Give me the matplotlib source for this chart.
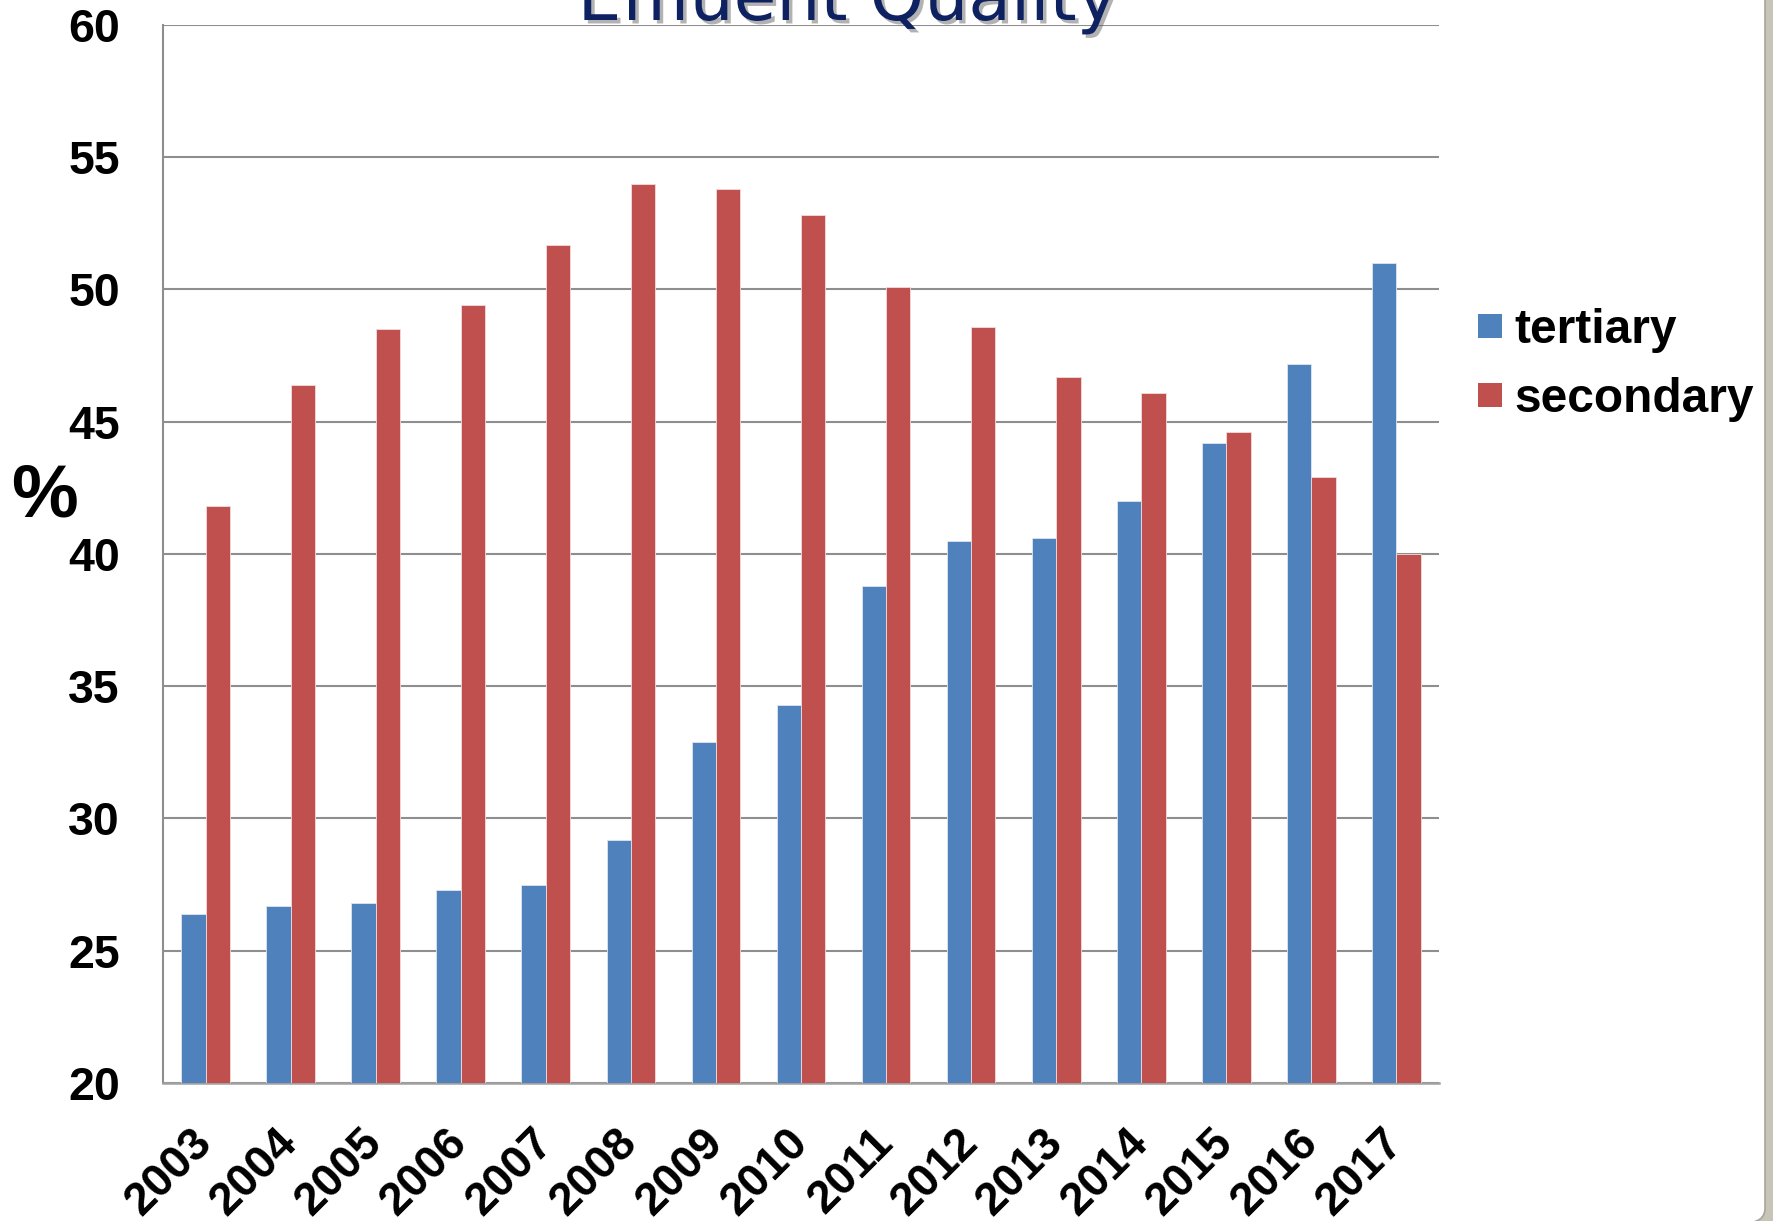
import matplotlib
matplotlib.use("Agg")
import matplotlib.pyplot as plt
import matplotlib.patheffects as pe
from matplotlib.lines import Line2D
from matplotlib.patches import FancyBboxPatch
import numpy as np

# Effluent quality shares by year (%)
years = ["2003", "2004", "2005", "2006", "2007", "2008", "2009", "2010",
         "2011", "2012", "2013", "2014", "2015", "2016", "2017"]
tertiary = [26.4, 26.7, 26.8, 27.3, 27.5, 29.2, 32.9, 34.3,
            38.8, 40.5, 40.6, 42.0, 44.2, 47.2, 51.0]
secondary = [41.8, 46.4, 48.5, 49.4, 51.7, 54.0, 53.8, 52.8,
             50.1, 48.6, 46.7, 46.1, 44.6, 42.9, 40.0]
y_ticks = [20, 25, 30, 35, 40, 45, 50, 55, 60]

BLUE = "#4F81BD"
RED = "#C0504D"
GRID = "#8E8E8E"
W, H = 1774, 1221

plt.rcParams["font.family"] = ["Liberation Sans", "DejaVu Sans"]

fig = plt.figure(figsize=(W / 100, H / 100), dpi=100)
fig.patch.set_facecolor("#C8C4B8")

# white slide panel with rounded corner
panel = FancyBboxPatch((-40 / W, -2 / H), (1765 + 40) / W, (H + 40) / H,
                       boxstyle="round,pad=0,rounding_size=0.012",
                       transform=fig.transFigure, facecolor="white",
                       edgecolor="#A8A498", linewidth=1.2, zorder=-5)
fig.patches.append(panel)

ax = fig.add_axes([163 / W, 1 - 1083 / H, (1439 - 163) / W, (1083 - 25) / H])
ax.set_facecolor("none")
ax.set_zorder(2)

x = np.arange(len(years))
bw = 1 / 3.5
ax.bar(x - bw / 2, tertiary, width=bw, color=BLUE, edgecolor="#dfe6f0",
       linewidth=0.6, zorder=3, label="tertiary")
ax.bar(x + bw / 2, secondary, width=bw, color=RED, edgecolor="#f0dcdc",
       linewidth=0.6, zorder=3, label="secondary")

ax.set_xlim(-0.5, len(years) - 0.5)
ax.set_ylim(20, 60)
ax.set_yticks(y_ticks)
ax.set_yticklabels([str(v) for v in y_ticks], fontsize=33.5, fontweight="bold")
ax.yaxis.grid(True, color=GRID, linewidth=1.5, zorder=1)
ax.set_axisbelow(True)

ax.set_xticks(x)
ax.set_xticklabels(years, fontsize=33, fontweight="bold", rotation=45,
                   ha="right", va="center", rotation_mode="anchor")
ax.tick_params(axis="x", length=0, pad=38)
ax.tick_params(axis="y", length=0, pad=31)

for side in ("top", "right"):
    ax.spines[side].set_visible(False)
ax.spines["left"].set_color(GRID)
ax.spines["left"].set_linewidth(1.5)
ax.spines["bottom"].set_color("#A0A0A0")
ax.spines["bottom"].set_linewidth(1.8)

fig.text(45 / W, 1 - 497 / H, "%", fontsize=54, fontweight="bold",
         ha="center", va="center")

handles = [Line2D([], [], marker="s", linestyle="none", markersize=17,
                  color=c, markeredgewidth=0) for c in (BLUE, RED)]
leg = fig.legend(handles, ["tertiary", "secondary"], loc="center left",
                 bbox_to_anchor=(1478 / W, 1 - 365 / H), frameon=False,
                 prop={"size": 34.5, "weight": "bold"}, handlelength=0.5,
                 handletextpad=0.25, labelspacing=0.5, borderpad=0,
                 borderaxespad=0)

fig.text(848 / W, 1 - 20 / H, "Effluent Quality", fontsize=50,
         family="DejaVu Sans", color="#0E2160", ha="center", va="baseline",
         path_effects=[pe.SimplePatchShadow(offset=(2.5, -2.5), alpha=0.45,
                                            shadow_rgbFace="#555555"),
                       pe.Normal()])

fig.savefig("out.png", dpi=100, facecolor=fig.get_facecolor())
